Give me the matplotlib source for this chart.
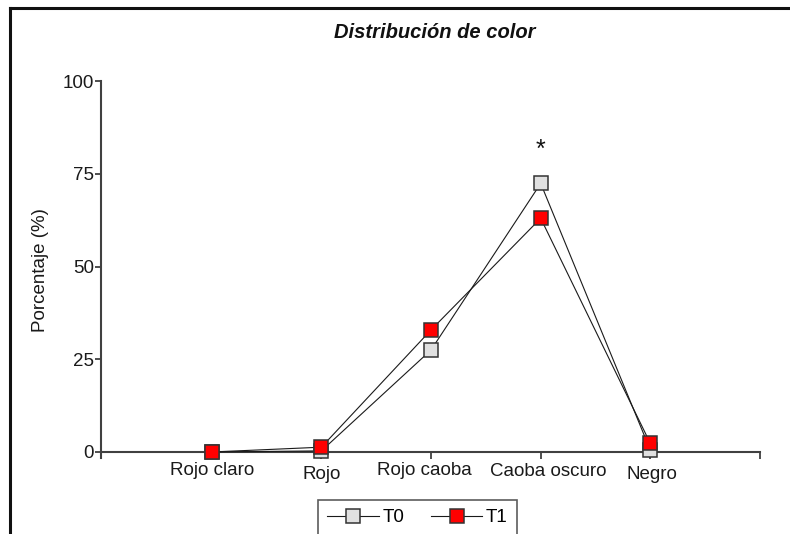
import matplotlib
matplotlib.use("Agg")
import matplotlib.pyplot as plt
from matplotlib.lines import Line2D
from matplotlib.transforms import ScaledTranslation

categories = ["Rojo claro", "Rojo", "Rojo caoba", "Caoba oscuro", "Negro"]
t0_values = [0.0, 0.3, 27.5, 72.4, 0.5]
t1_values = [0.0, 1.3, 32.9, 63.0, 2.3]
y_ticks = [0, 25, 50, 75, 100]
series_names = ["T0", "T1"]

plt.rcParams["font.family"] = ["Liberation Sans", "DejaVu Sans"]

W, H = 790, 534
fig = plt.figure(figsize=(W / 100, H / 100), dpi=100)
ax = fig.add_axes([101 / W, 1 - 452 / H, (760 - 101) / W, (452 - 81) / H])

x = list(range(len(categories)))
axis_col = "#404040"
ax.plot(x, t0_values, color="#1a1a1a", lw=0.8, marker="s", markersize=9.5,
        markerfacecolor="#e0e0e0", markeredgecolor="#333333", markeredgewidth=1.1,
        label=series_names[0], zorder=3, clip_on=False)
ax.plot(x, t1_values, color="#1a1a1a", lw=0.8, marker="s", markersize=9.5,
        markerfacecolor="#ff0000", markeredgecolor="#333333", markeredgewidth=1.1,
        label=series_names[1], zorder=4, clip_on=False)

ax.set_xlim(-1.01, 5.0)
ax.set_ylim(0, 100)
ax.set_yticks(y_ticks)
ax.set_yticklabels([str(v) for v in y_ticks], fontsize=13.5, color="#1a1a1a")
ax.set_xticks(x)
ax.set_xticklabels(categories, fontsize=13.5, color="#1a1a1a")
ax.set_xticks([5.0], minor=True)

for s in ["top", "right"]:
    ax.spines[s].set_visible(False)
for s in ["left", "bottom"]:
    ax.spines[s].set_color(axis_col)
    ax.spines[s].set_linewidth(1.5)
ax.spines["left"].set_bounds(-1.6, 100)

ax.tick_params(axis="y", length=4, width=1.3, color=axis_col, pad=1)
ax.tick_params(axis="x", which="both", length=5, width=1.3, color=axis_col, pad=2)

# nudge staggered category labels
offsets = {"Rojo": (0, -4), "Rojo caoba": (-7, 0), "Caoba oscuro": (8, -1), "Negro": (2, -4)}
for lbl in ax.get_xticklabels():
    dx, dy = offsets.get(lbl.get_text(), (0, 0))
    if dx or dy:
        lbl.set_transform(lbl.get_transform() + ScaledTranslation(dx / 100, dy / 100, fig.dpi_scale_trans))

ax.set_ylabel("Porcentaje (%)", fontsize=13.5, color="#1a1a1a")
ax.yaxis.set_label_coords(-0.079, 0.49)

fig.text(435 / W, 1 - 32 / H, "Distribución de color", fontsize=14.5, fontweight="bold",
         style="italic", color="#111111", ha="center", va="center")

ax.text(3, 81.5, "*", fontsize=18, ha="center", va="center", color="#111111")

leg = ax.legend(loc="upper left", bbox_to_anchor=(318 / W, 1 - 500 / H),
                bbox_transform=fig.transFigure, ncol=2, frameon=True, fancybox=False,
                fontsize=13.5, handlelength=2.75, handletextpad=0.2, columnspacing=1.4,
                borderpad=0.5, borderaxespad=0)
leg.get_frame().set_edgecolor("#333333")
leg.get_frame().set_linewidth(1.2)

# outer frame edges
fig.add_artist(Line2D([10 / W, 1], [1 - 8 / H, 1 - 8 / H], transform=fig.transFigure,
                      color="#111111", lw=2.2))
fig.add_artist(Line2D([10 / W, 10 / W], [0, 1 - 8 / H], transform=fig.transFigure,
                      color="#111111", lw=2.2))

fig.savefig("out.png", dpi=100)
